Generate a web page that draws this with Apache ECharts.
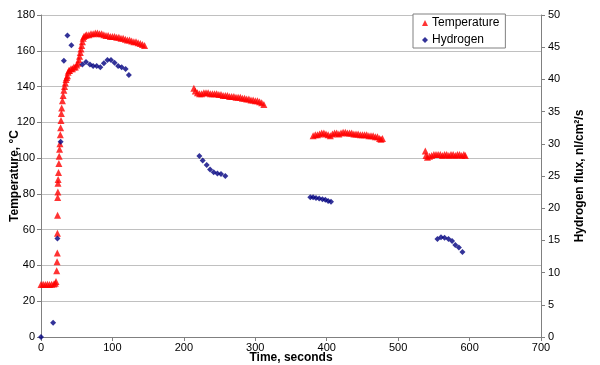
<!DOCTYPE html>
<html><head><meta charset="utf-8">
<script src="https://cdn.jsdelivr.net/npm/echarts@6/dist/echarts.min.js"></script>
<style>html,body{margin:0;padding:0;background:#fff}#c{width:600px;height:365px}</style>
</head><body><div id="c"></div>
<script>
// Temperature readings [time s, °C]
const tempSeg1 = [[0,29.3],[3,29.5],[6,29.4],[9,29.5],[12,29.4],[15,29.5],[18,29.6],[20,30],[21,31],
 [22,37],[22.5,42],[22.8,47],[23,58],[23.2,68],[23.4,78],[23.6,81],[23.8,86],
 [24,88],[24.5,92],[25,97],[25.5,101],[26,105],[26.5,108],[27,113],[27.5,117],[28,121],[28.5,125],[29,128],
 [30,132],[31,135],[32,138],[33,140],[34,142],[35,144],[36,145],[37,146],[38,148],[39,149],[40,149],
 [42,150],[44,150],[46,151],[48,151],[50,152],[52,153],[53,155],[54,157],[55,159],[56,161],[57,163],
 [58,165],[59,167],[60,168],[62,168.5],[64,169],[67,169],[70,169.5],[73,169.5],[76,170],[79,170],
 [82,169.5],[85,169.5],[88,169],[91,168.5],[94,168.5],[97,168],[100,168],[103,168],[106,167.5],
 [109,167.5],[112,167],[115,167],[118,166.5],[121,166],[124,166],[127,165.5],[130,165],[133,165],
 [136,164.5],[139,164],[142,163.5],[145,163]];
const tempSeg2 = [[214,139],[216,137.5],[219,136.5],[222,136],[225,136],[228,136.5],[231,136.5],[234,136.5],
 [237,136],[240,136],[243,136],[246,136],[249,135.5],[252,135.5],[255,135],[258,135],[261,135],[264,134.5],
 [267,134.5],[270,134.5],[273,134],[276,134],[279,134],[282,133.5],[285,133.5],[288,133],[291,133],
 [294,132.5],[297,132.5],[300,132],[303,132],[306,131.5],[309,131],[312,130]];
const tempSeg3 = [[381,112.5],[384,113],[387,113],[390,113.5],[393,114],[396,114],[399,113.5],[402,113],
 [405,112.5],[408,113.5],[411,114],[414,114],[417,113.5],[420,114],[423,114.5],[426,114.5],[429,114],
 [432,114],[435,114],[438,113.5],[441,113.5],[444,113.5],[447,113],[450,113],[453,113],[456,113],
 [459,112.5],[462,112.5],[465,112.5],[468,112],[471,112],[474,111],[476,110.5],[478,111]];
const tempSeg4 = [[538,104],[539,101.5],[541,100.5],[544,101],[547,101.5],[550,102],[553,102],[556,102],
 [559,102],[562,101.5],[565,102],[568,102],[571,101.5],[574,102],[577,102],[580,101.5],[583,102],
 [586,102],[589,101.5],[592,102],[594,101.5]];
// Hydrogen flux readings [time s, nl/cm²/s]
const hydrogen = [[0,0],[17,2.2],[23,15.3],[27.5,30.3],[32,42.9],[37,46.8],[42.5,45.3],[58,42.3],[63,42.7],
 [68.5,42.3],[73,42.1],[78,42.1],[83,41.9],[88,42.5],[93,43.0],[98,43.0],[103,42.6],[108,42.1],[113,41.9],
 [118.5,41.6],[123,40.7],
 [221.7,28.1],[226.4,27.4],[232,26.7],[236.7,26.0],[241.8,25.6],[247,25.4],[252,25.3],[258,25.0],
 [377,21.7],[381,21.7],[385,21.6],[389.5,21.5],[394,21.4],[398,21.3],[402,21.1],[406,21.0],
 [555,15.2],[560,15.5],[565,15.4],[570.5,15.2],[575.5,14.9],[580,14.3],[585,13.9],[590,13.2]];
const temperature = tempSeg1.concat(tempSeg2, tempSeg3, tempSeg4);

const font = 'Arial, "Liberation Sans", sans-serif';
const chart = echarts.init(document.getElementById('c'), null, {renderer:'canvas'});
chart.setOption({
  animation:false,
  textStyle:{fontFamily:font},
  grid:{left:41,right:59,top:15,bottom:28,containLabel:false,outerBoundsMode:'none'},
  legend:{
    orient:'vertical', left:413, top:14, padding:[3,6,2,9], itemGap:5,
    itemWidth:6, itemHeight:6, borderColor:'#808080', borderWidth:1, backgroundColor:'#fff',
    textStyle:{fontFamily:font,fontSize:12,color:'#000',padding:[0,0,0,-1]},
    data:[{name:'Temperature',icon:'triangle'},{name:'Hydrogen',icon:'diamond'}]
  },
  xAxis:{
    type:'value', min:0, max:700, interval:100,
    name:'Time, seconds', nameLocation:'middle', nameGap:15, nameMoveOverlap:false,
    nameTextStyle:{fontFamily:font,fontSize:12,fontWeight:'bold',color:'#000'},
    axisLine:{lineStyle:{color:'#808080'}},
    axisTick:{show:true,length:4,lineStyle:{color:'#808080'}},
    axisLabel:{fontFamily:font,fontSize:11,color:'#000',margin:5},
    splitLine:{show:false}
  },
  yAxis:[{
    type:'value', min:0, max:180, interval:20, position:'left',
    name:'Temperature, °C', nameLocation:'middle', nameGap:20, nameRotate:90, nameMoveOverlap:false,
    nameTextStyle:{fontFamily:font,fontSize:12,fontWeight:'bold',color:'#000'},
    axisLine:{show:true,lineStyle:{color:'#808080'}},
    axisTick:{show:true,length:4,lineStyle:{color:'#808080'}},
    axisLabel:{fontFamily:font,fontSize:11,color:'#000',margin:6},
    splitLine:{show:true,lineStyle:{color:'#c0c0c0',width:1}}
  },{
    type:'value', min:0, max:50, interval:5, position:'right',
    name:'Hydrogen flux, nl/cm²/s', nameLocation:'middle', nameGap:33, nameRotate:90, nameMoveOverlap:false,
    nameTextStyle:{fontFamily:font,fontSize:12,fontWeight:'bold',color:'#000'},
    axisLine:{show:true,lineStyle:{color:'#808080'}},
    axisTick:{show:true,length:4,lineStyle:{color:'#808080'}},
    axisLabel:{fontFamily:font,fontSize:11,color:'#000',margin:7},
    splitLine:{show:false}
  }],
  series:[{
    name:'Temperature', type:'scatter', yAxisIndex:0, symbol:'triangle', symbolSize:7,
    itemStyle:{color:'#ff0000'}, data:temperature
  },{
    name:'Hydrogen', type:'scatter', yAxisIndex:1, symbol:'diamond', symbolSize:6,
    itemStyle:{color:'#000080'}, data:hydrogen
  }]
});
</script></body></html>
